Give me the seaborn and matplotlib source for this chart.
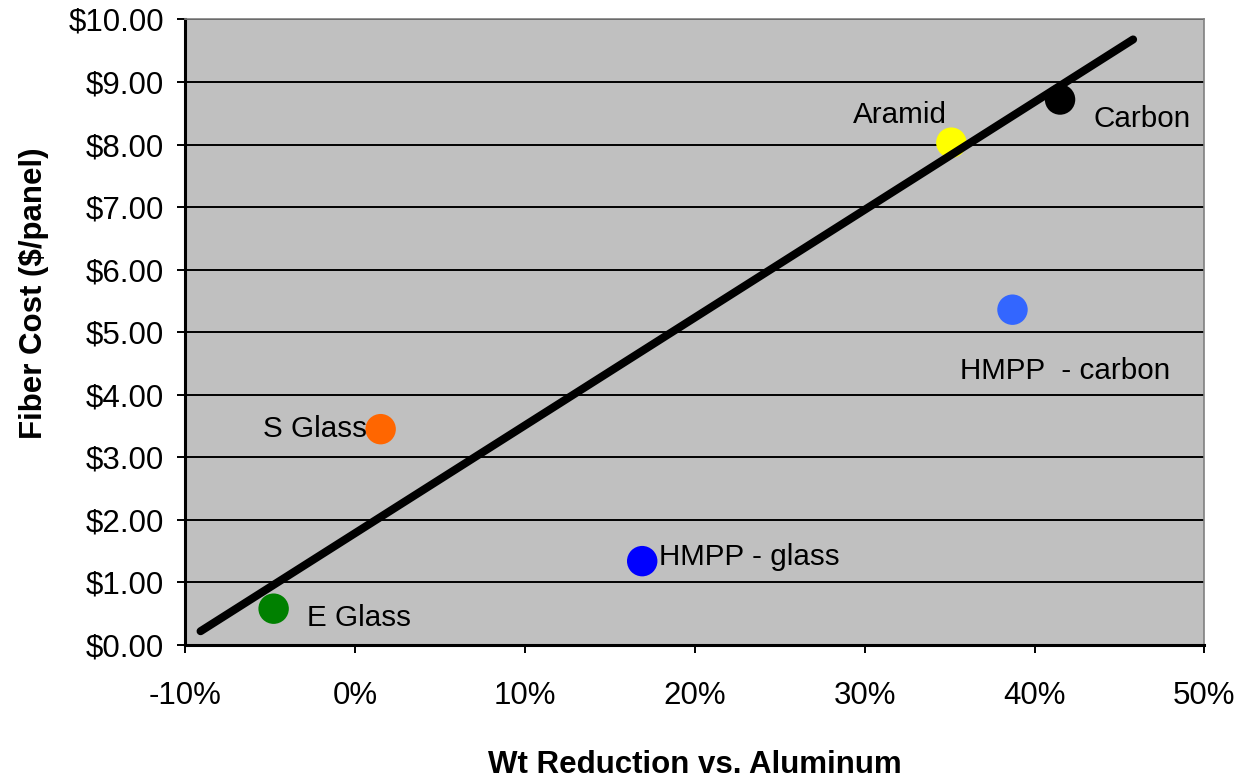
import pandas as pd
import matplotlib.pyplot as plt
import matplotlib.ticker as mticker
import seaborn as sns

# Data
fibers = ['E Glass', 'S Glass', 'HMPP - glass', 'Aramid', 'HMPP  - carbon', 'Carbon']
wt_reduction = [-4.8, 1.5, 16.9, 35.1, 38.7, 41.5]   # percent
fiber_cost = [0.58, 3.45, 1.34, 8.03, 5.36, 8.72]    # $/panel
colors = ['#008000', '#FF6600', '#0000FF', '#FFFF00', '#3366FF', '#000000']

# Trend line end points
trend_x = [-9.1, 45.8]
trend_y = [0.22, 9.68]

# label offsets (points) and alignment
label_dx = [24, -10, 12, -3, -38, 24]
label_dy = [-7, 0, 3, 20, -44, -14]
label_ha = ['left', 'right', 'left', 'right', 'left', 'left']

df = pd.DataFrame({'fiber': fibers, 'wt': wt_reduction, 'cost': fiber_cost})
trend = pd.DataFrame({'wt': trend_x, 'cost': trend_y})

sns.set_style('ticks')
plt.rcParams['font.family'] = ['Liberation Sans', 'DejaVu Sans']
plt.rcParams['text.color'] = 'black'
plt.rcParams['axes.labelcolor'] = 'black'
plt.rcParams['xtick.color'] = 'black'
plt.rcParams['ytick.color'] = 'black'

fig = plt.figure(figsize=(12.52, 7.78), dpi=100)
ax = fig.add_axes([0.148, 0.171, 0.814, 0.804])
ax.set_facecolor('#C0C0C0')

sns.scatterplot(data=df, x='wt', y='cost', hue='fiber', palette=colors,
                s=480, edgecolor='none', legend=False, ax=ax, zorder=3)
sns.lineplot(data=trend, x='wt', y='cost', color='black', linewidth=5.8,
             ax=ax, zorder=4)

for i, name in enumerate(fibers):
    ax.annotate(name, (wt_reduction[i], fiber_cost[i]),
                xytext=(label_dx[i], label_dy[i]), textcoords='offset points',
                ha=label_ha[i], va='center', fontsize=21.3, color='black', zorder=5)

ax.set_xlim(-10, 50)
ax.set_ylim(0, 10)
ax.xaxis.set_major_locator(mticker.MultipleLocator(10))
ax.yaxis.set_major_locator(mticker.MultipleLocator(1))
ax.xaxis.set_major_formatter(mticker.FuncFormatter(lambda v, p: f'{v:.0f}%'))
ax.yaxis.set_major_formatter(mticker.FuncFormatter(lambda v, p: f'${v:.2f}'))
ax.grid(axis='y', color='black', linewidth=1.4)
ax.set_axisbelow(True)

for side in ['left', 'bottom']:
    ax.spines[side].set_linewidth(2.2)
    ax.spines[side].set_color('black')
for side in ['top', 'right']:
    ax.spines[side].set_visible(True)
    ax.spines[side].set_linewidth(1.2)
    ax.spines[side].set_color('#808080')

ax.tick_params(axis='both', labelsize=22.5, width=1.4, length=6, direction='out')
ax.tick_params(axis='x', pad=20)
ax.tick_params(axis='y', pad=9)

ax.set_xlabel('Wt Reduction vs. Aluminum', fontsize=22.5, fontweight='bold', labelpad=28)
ax.set_ylabel('Fiber Cost ($/panel)', fontsize=22.5, fontweight='bold')
ax.yaxis.set_label_coords(-0.134, 0.562)

fig.savefig('out.png', dpi=100)
